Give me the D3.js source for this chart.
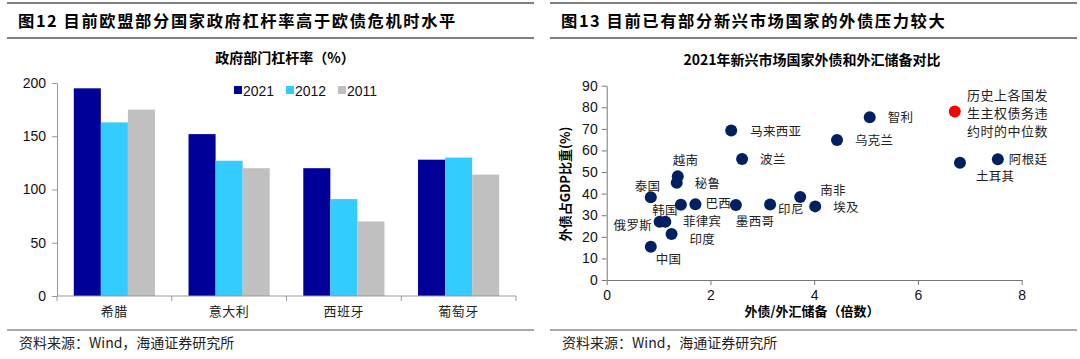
<!DOCTYPE html>
<html><head><meta charset="utf-8">
<script src="https://cdn.jsdelivr.net/npm/d3@7"></script>
<style>
body{margin:0;background:#fff;}
svg text{font-family:"Liberation Sans","Noto Sans CJK SC",sans-serif;}
</style></head>
<body><svg id="c" width="1080" height="359"></svg>
<script>
// ---- Left chart data ----
const barCategories = ["希腊","意大利","西班牙","葡萄牙"];
const barSeries = ["2021","2012","2011"];
const values2021 = [195, 152, 120, 128];
const values2012 = [163, 127, 91, 130];
const values2011 = [175, 120, 70, 114];
const barColors = ["#000099","#33CCFF","#C0C0C0"];
const barYTicks = [0,50,100,150,200];

// ---- Right chart data ----
const countries = ["马来西亚","波兰","越南","秘鲁","泰国","菲律宾","巴西","墨西哥","印尼","南非","埃及","俄罗斯","韩国","印度","中国","智利","乌克兰","土耳其","阿根廷"];
const debtToReserves = [2.40,2.61,1.37,1.35,0.85,1.43,1.71,2.49,3.15,3.73,4.02,1.02,1.13,1.25,0.85,5.07,4.44,6.81,7.54];
const debtToGDP = [69.2,56.0,48.0,45.0,38.3,34.9,35.1,34.7,35.0,38.4,34.1,27.0,27.0,21.3,15.4,75.4,64.8,54.3,55.9];
const medianDefault = [6.71, 78.0];
const medianLabel = ["历史上各国发","生主权债务违","约时的中位数"];
const scatterXTicks = [0,2,4,6,8];
const scatterYTicks = [0,10,20,30,40,50,60,70,80,90];

const svg = d3.select("#c");
const cjk = '"Noto Sans CJK SC",sans-serif';

// headers
function header(x1,x2,title){
  svg.append("line").attr("x1",x1).attr("x2",x2).attr("y1",3).attr("y2",3).attr("stroke","#7f7f7f").attr("stroke-width",2);
  svg.append("line").attr("x1",x1).attr("x2",x2).attr("y1",38).attr("y2",38).attr("stroke","#7f7f7f").attr("stroke-width",2);
  svg.append("text").attr("x",x1+11).attr("y",27).attr("font-size",16.3).attr("font-weight","bold")
    .attr("letter-spacing",1.6).style("font-family",cjk).text(title);
  svg.append("line").attr("x1",x1).attr("x2",x2).attr("y1",330).attr("y2",330).attr("stroke","#555").attr("stroke-width",1.2);
  svg.append("text").attr("x",x1+12).attr("y",348).attr("font-size",14).attr("fill","#222")
    .style("font-family",cjk).text("资料来源：Wind，海通证券研究所");
}
header(7,534,"图12 目前欧盟部分国家政府杠杆率高于欧债危机时水平");
header(550,1077,"图13 目前已有部分新兴市场国家的外债压力较大");

// ---- Left bar chart ----
const L = {x0:57, x1:516, y0:296, y1:83};
const xb = d3.scaleBand().domain(barCategories).range([L.x0,L.x1]).paddingInner(0).paddingOuter(0);
const yb = d3.scaleLinear().domain([0,200]).range([L.y0,L.y1]);
const xs = d3.scaleBand().domain(barSeries).range([0,xb.bandwidth()]).paddingOuter(0.62).paddingInner(0);
const barData = [values2021,values2012,values2011];

svg.append("text").attr("x",285).attr("y",63).attr("text-anchor","middle").attr("font-size",14).attr("font-weight","bold")
  .style("font-family",cjk).text("政府部门杠杆率（%）");

barSeries.forEach((s,i)=>{
  svg.append("g").selectAll("rect").data(barCategories).join("rect")
    .attr("x",d=>xb(d)+xs(s)).attr("width",xs.bandwidth())
    .attr("y",(d,j)=>yb(barData[i][j])).attr("height",(d,j)=>yb(0)-yb(barData[i][j]))
    .attr("fill",barColors[i]);
});

const yAxL = svg.append("g").attr("transform",`translate(${L.x0},0)`)
  .call(d3.axisLeft(yb).tickValues(barYTicks).tickSize(5).tickSizeOuter(0).tickPadding(6));
yAxL.selectAll("text").attr("font-size",14).attr("fill","#111");
yAxL.selectAll("line,path").attr("stroke","#999");

const xAxL = svg.append("g").attr("transform",`translate(0,${L.y0})`);
xAxL.append("line").attr("x1",L.x0).attr("x2",L.x1).attr("stroke","#999");
xAxL.selectAll(".tk").data(d3.range(barCategories.length+1)).join("line")
  .attr("x1",i=>L.x0+i*xb.bandwidth()).attr("x2",i=>L.x0+i*xb.bandwidth()).attr("y1",0).attr("y2",5).attr("stroke","#999");
xAxL.selectAll(".lb").data(barCategories).join("text")
  .attr("x",d=>xb(d)+xb.bandwidth()/2).attr("y",20).attr("text-anchor","middle").attr("font-size",13)
  .attr("letter-spacing",0.5).style("font-family",cjk).attr("fill","#222").text(d=>d);

// legend
const legX = [234,286,338];
barSeries.forEach((s,i)=>{
  svg.append("rect").attr("x",legX[i]).attr("y",86).attr("width",8).attr("height",8).attr("fill",barColors[i]);
  svg.append("text").attr("x",legX[i]+9).attr("y",96).attr("font-size",14).attr("fill","#111").text(s);
});

// ---- Right scatter ----
const R = {x0:606.7, x1:1021.7, y0:280, y1:85.7};
const xsc = d3.scaleLinear().domain([0,8]).range([R.x0,R.x1]);
const ysc = d3.scaleLinear().domain([0,90]).range([R.y0,R.y1]);

svg.append("text").attr("x",812).attr("y",65).attr("text-anchor","middle").attr("font-size",14).attr("font-weight","bold")
  .style("font-family",cjk).text("2021年新兴市场国家外债和外汇储备对比");

const xAxR = svg.append("g").attr("transform",`translate(0,${R.y0})`)
  .call(d3.axisBottom(xsc).tickValues(scatterXTicks).tickSize(5).tickSizeOuter(0).tickPadding(5));
xAxR.selectAll("text").attr("font-size",14).attr("fill","#111");
xAxR.selectAll("line,path").attr("stroke","#777");
const yAxR = svg.append("g").attr("transform",`translate(${R.x0},0)`)
  .call(d3.axisLeft(ysc).tickValues(scatterYTicks).tickSize(5).tickSizeOuter(0).tickPadding(4));
yAxR.selectAll("text").attr("font-size",14).attr("fill","#111");
yAxR.selectAll("line,path").attr("stroke","#777");

svg.append("text").attr("x",812).attr("y",316).attr("text-anchor","middle").attr("font-size",13).attr("font-weight","bold")
  .style("font-family",cjk).text("外债/外汇储备（倍数）");
svg.append("text").attr("transform","translate(570,184) rotate(-90)").attr("text-anchor","middle").attr("font-size",13).attr("font-weight","bold")
  .style("font-family",cjk).text("外债占GDP比重(%)");

const pts = countries.map((c,i)=>({c,x:debtToReserves[i],y:debtToGDP[i]}));
svg.append("g").selectAll("circle").data(pts).join("circle")
  .attr("cx",d=>xsc(d.x)).attr("cy",d=>ysc(d.y)).attr("r",6).attr("fill","#002060");
svg.append("circle").attr("cx",xsc(medianDefault[0])).attr("cy",ysc(medianDefault[1])).attr("r",6).attr("fill","#FF0000");

// label offsets (dx, dy of baseline from point)
const labelPos = {
  "马来西亚":[19,5],"波兰":[18,5],"越南":[-5,-11],"秘鲁":[18,5],
  "泰国":[-16,-6],"菲律宾":[2,21.3],"巴西":[10,4],"墨西哥":[0,21],
  "印尼":[8,10],"南非":[20,-2],"埃及":[18,6],"俄罗斯":[-46,8],
  "韩国":[-13,-7],"印度":[18,9.5],"中国":[5,17],"智利":[18,5],
  "乌克兰":[18,5],"土耳其":[16,18],"阿根廷":[11,5]
};
svg.append("g").selectAll("text").data(pts).join("text")
  .attr("x",d=>xsc(d.x)+labelPos[d.c][0]).attr("y",d=>ysc(d.y)+labelPos[d.c][1])
  .attr("font-size",12.5).attr("letter-spacing",0.3).attr("fill","#222")
  .style("font-family",cjk).text(d=>d.c);
medianLabel.forEach((t,i)=>{
  svg.append("text").attr("x",967).attr("y",100+i*18).attr("font-size",13).attr("fill","#222")
    .attr("letter-spacing",0.5).style("font-family",cjk).text(t);
});
</script></body></html>
